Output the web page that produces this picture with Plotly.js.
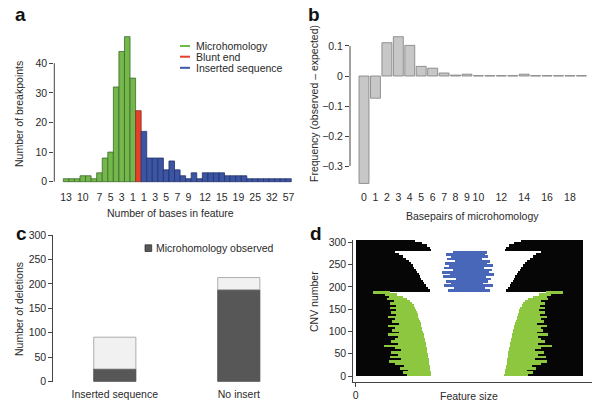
<!DOCTYPE html>
<html><head><meta charset="utf-8">
<script src="https://cdn.plot.ly/plotly-3.0.1.min.js"></script>
<style>html,body{margin:0;padding:0;background:#fff}#chart{width:600px;height:408px}</style>
</head><body><div id="chart"></div>
<script>
// ---------- Panel a: breakpoint features ----------
const microLen = [13,12,11,10,9,8,7,6,5,4,3,2,1];
const microCount = [1,1,1,2,2,1,3,8,10,32,44,49,35];
const bluntCount = [24];
const insertLen = [1,2,3,4,5,6,7,8,9,10,11,12,13,14,15,16,17,19,21,23,25,27,29,32,36,44,57];
const insertCount = [17,8,8,8,4,7,4,2,1,3,1,3,3,3,3,2,2,2,2,1,1,1,1,1,1,1,1];
const microTickLabels = [13,10,7,5,3,1];
const insertTickLabels = [1,3,5,7,9,12,15,19,25,32,57];
const legendA = ['Microhomology','Blunt end','Inserted sequence'];

// ---------- Panel b: microhomology observed - expected ----------
const mhBp = [0,1,2,3,4,5,6,7,8,9,10,11,12,13,14,15,16,17,18,19];
const mhFreqDiff = [-0.358,-0.074,0.111,0.131,0.102,0.032,0.026,0.010,0.003,0.006,0.001,0.001,0.001,0.001,0.006,0.001,0.001,0.001,0.001,0.001];
const mhTickLabels = [0,1,2,3,4,5,6,7,8,9,10,12,14,16,18];

// ---------- Panel c: deletions ----------
const delCategories = ['Inserted sequence','No insert'];
const delMicro = [26,188];
const delTotal = [91,213];
const legendC = 'Microhomology observed';

// ---------- Panel d: CNV feature sizes (rows of 5 CNVs) ----------
const microHalfGap = [36.5,37,37.5,38,38.3,38.7,39,39.3,39.7,40,40.5,41,41.3,41.8,42.3,42.8,43.3,43.8,44.3,44.8,45.5,46,46.5,47.2,48,48.8,49.5,50.2,51,51.5,52.5,54,55.5,57.5,60.5,65,71,78];
const microFeature = [24,28,22,30,26,34,40,28,38,30,36,26,32,42,28,34,30,26,36,24,30,27,33,22,28,24,30,22,26,20,25,18,22,16,20,14,12,17];
const insertHalfGap = [38,40,42,43.5,45,46.5,47.5,49,50.5,52,53.5,55,57,59,62,65,68.5,73];
const insertLeftLen = [20,14,24,17,22,12,25,18,26,15,24,19,23,13,21,17,22,15];
const insertRightLen = [22,17,25,15,20,23,18,26,21,24,16,25,19,22,14,20,17,19];
const bluntHalfGap = [37,38,41,46,53];

const FONT = 'Liberation Sans, Arial, Helvetica, sans-serif';
const TXT = '#2a2a2a';
const W = 600, H = 408;
const px = v => v / W;
const py = v => 1 - v / H;

const traces = [];
// Panel a bars
const microX = microLen.map((_, i) => i);
const bluntX = [microLen.length];
const insertX = insertLen.map((_, i) => microLen.length + 1 + i);
traces.push({type:'bar', x: microX, y: microCount, width: 1, xaxis:'x', yaxis:'y',
  marker:{color:'#74b74a', line:{color:'#3e6a2c', width:0.8}}, hoverinfo:'skip', showlegend:false});
traces.push({type:'bar', x: bluntX, y: bluntCount, width: 1, xaxis:'x', yaxis:'y',
  marker:{color:'#e6402a', line:{color:'#8c2e1f', width:0.8}}, hoverinfo:'skip', showlegend:false});
traces.push({type:'bar', x: insertX, y: insertCount, width: 1, xaxis:'x', yaxis:'y',
  marker:{color:'#3b55a4', line:{color:'#23326a', width:0.8}}, hoverinfo:'skip', showlegend:false});
const aTickVals = microTickLabels.map(l => microLen.indexOf(l))
  .concat(insertTickLabels.map(l => microLen.length + 1 + insertLen.indexOf(l)));
const aTickText = microTickLabels.concat(insertTickLabels).map(String);

// Panel b
traces.push({type:'bar', x: mhBp, y: mhFreqDiff, width: 0.87, xaxis:'x2', yaxis:'y2',
  marker:{color:'#c7c7c7', line:{color:'#7c7c7c', width:0.8}}, hoverinfo:'skip', showlegend:false});

// Panel c
traces.push({type:'bar', x: delCategories, y: delMicro, width: 0.34, xaxis:'x3', yaxis:'y3',
  marker:{color:'#575757', line:{color:'#444', width:0.8}}, hoverinfo:'skip', showlegend:false});
traces.push({type:'bar', x: delCategories, y: delTotal.map((t, i) => t - delMicro[i]), base: delMicro,
  width: 0.34, xaxis:'x3', yaxis:'y3',
  marker:{color:'#f1f1f1', line:{color:'#9a9a9a', width:0.8}}, hoverinfo:'skip', showlegend:false});

// Panel d
const C = 112.3, SPAN = 227.6, ROW = 5;
const halfGap = microHalfGap.concat(insertHalfGap, bluntHalfGap);
const feat = microFeature.concat(insertHalfGap.map(() => 0), bluntHalfGap.map(() => 0));
const rowY = halfGap.map((_, i) => i * ROW + ROW / 2);
const microY = rowY.slice(0, microHalfGap.length);
const insertY = rowY.slice(microHalfGap.length, microHalfGap.length + insertHalfGap.length);
const dCommon = {type:'bar', orientation:'h', width: ROW * 1.2, xaxis:'x4', yaxis:'y4', hoverinfo:'skip', showlegend:false};
traces.push(Object.assign({}, dCommon, {y: rowY, base: 0, x: halfGap.map((g, i) => C - g - feat[i]),
  marker:{color:'#060606', line:{width:0}}}));
traces.push(Object.assign({}, dCommon, {y: rowY, base: halfGap.map((g, i) => C + g + feat[i]),
  x: halfGap.map((g, i) => SPAN - (C + g + feat[i])), marker:{color:'#060606', line:{width:0}}}));
traces.push(Object.assign({}, dCommon, {y: microY, base: microHalfGap.map((g, i) => C - g - microFeature[i]),
  x: microFeature, marker:{color:'#8dc63f', line:{width:0}}}));
traces.push(Object.assign({}, dCommon, {y: microY, base: microHalfGap.map(g => C + g),
  x: microFeature, marker:{color:'#8dc63f', line:{width:0}}}));
traces.push(Object.assign({}, dCommon, {y: insertY, base: insertLeftLen.map(b => C - b),
  x: insertLeftLen.map((b, i) => b + insertRightLen[i]), marker:{color:'#4967b9', line:{width:0}}}));

const tickFont = {family: FONT, size: 10.5, color: TXT};
const baseAxis = {showgrid:false, zeroline:false, tickfont: tickFont, fixedrange:true};

const layout = {
  width: W, height: H, margin:{l:0,r:0,t:0,b:0}, paper_bgcolor:'#fff', plot_bgcolor:'rgba(0,0,0,0)',
  barmode:'overlay', bargap:0, showlegend:false, font:{family: FONT, color: TXT},
  xaxis: Object.assign({}, baseAxis, {domain:[px(54.3), px(295)], range:[-2.122, 41.17], anchor:'y',
    tickmode:'array', tickvals: aTickVals, ticktext: aTickText, ticks:'', showline:false, ticklabelstandoff:4}),
  yaxis: Object.assign({}, baseAxis, {domain:[py(185), py(30)], range:[-1.115, 51.25], anchor:'x',
    tickmode:'array', tickvals:[0,10,20,30,40], ticks:'outside', ticklen:4, tickcolor:'#444', showline:false}),
  xaxis2: Object.assign({}, baseAxis, {domain:[px(350), px(595)], range:[-1.224, 20.19], anchor:'y2',
    tickmode:'array', tickvals: mhTickLabels, ticktext: mhTickLabels.map(String), ticks:'', showline:false, ticklabelstandoff:1}),
  yaxis2: Object.assign({}, baseAxis, {domain:[py(188), py(30)], range:[-0.3733, 0.1533], anchor:'x2',
    tickmode:'array', tickvals:[-0.3,-0.2,-0.1,0,0.1], ticktext:['\u22120.3','\u22120.2','\u22120.1','0','0.1'],
    ticks:'outside', ticklen:4, tickcolor:'#444', showline:false}),
  xaxis3: Object.assign({}, baseAxis, {domain:[px(53.3), px(290)], range:[-0.496, 1.413], anchor:'y3',
    type:'category', ticks:'', showline:false, ticklabelstandoff:5}),
  yaxis3: Object.assign({}, baseAxis, {domain:[py(381.7), py(235)], range:[0, 300], anchor:'x3',
    tickmode:'array', tickvals:[0,50,100,150,200,250,300], ticks:'outside', ticklen:4, tickcolor:'#444',
    showline:true, linecolor:'#444', linewidth:1}),
  xaxis4: Object.assign({}, baseAxis, {domain:[px(353.3), px(591.7)], range:[-2.4, 236], anchor:'y4',
    tickmode:'array', tickvals:[0], ticktext:['0'], ticks:'outside', ticklen:4, tickcolor:'#444',
    showline:true, linecolor:'#444', linewidth:1}),
  yaxis4: Object.assign({}, baseAxis, {domain:[py(381.7), py(240)], range:[-12.79, 305.1], anchor:'x4',
    tickmode:'array', tickvals:[0,50,100,150,200,250,300], ticks:'outside', ticklen:4, tickcolor:'#444',
    showline:true, linecolor:'#444', linewidth:1}),
  shapes: [
    {type:'line', xref:'x domain', yref:'y', x0:0, x1:0, y0:0, y1:40, line:{color:'#444', width:1}},
    {type:'line', xref:'x2 domain', yref:'y2', x0:0, x1:0, y0:-0.3, y1:0.1, line:{color:'#444', width:1}},
    // legend keys
    {type:'line', xref:'paper', yref:'paper', x0:px(180), x1:px(190), y0:py(46), y1:py(46), line:{color:'#6dbd45', width:2}},
    {type:'line', xref:'paper', yref:'paper', x0:px(180), x1:px(190), y0:py(56.7), y1:py(56.7), line:{color:'#e6402a', width:2}},
    {type:'line', xref:'paper', yref:'paper', x0:px(180), x1:px(190), y0:py(67.8), y1:py(67.8), line:{color:'#3b5aa8', width:2}},
    {type:'rect', xref:'paper', yref:'paper', x0:px(145), x1:px(151.7), y0:py(251.5), y1:py(244.8), fillcolor:'#575757', line:{color:'#333', width:0.8}}
  ],
  annotations: []
};

function ann(text, x, y, opts) {
  layout.annotations.push(Object.assign({text: text, xref:'paper', yref:'paper', x: px(x), y: py(y),
    xanchor:'center', yanchor:'middle', showarrow:false, font:{family: FONT, size: 10.5, color: TXT}}, opts || {}));
}
// panel letters
const letterFont = {family: FONT, size: 19, color:'#111', weight: 'bold'};
ann('<b>a</b>', 20, 15, {font: letterFont});
ann('<b>b</b>', 314, 15, {font: letterFont});
ann('<b>c</b>', 21.3, 233.5, {font: letterFont});
ann('<b>d</b>', 316, 233.5, {font: letterFont});
// axis titles
ann('Number of breakpoints', 19, 114, {textangle:-90});
ann('Number of bases in feature', 170.7, 213.3);
ann('Frequency (observed \u2013 expected)', 314, 104, {textangle:-90});
ann('Basepairs of microhomology', 472.7, 215.7);
ann('Number of deletions', 19, 309, {textangle:-90});
ann('CNV number', 313.3, 301.7, {textangle:-90});
ann('Feature size', 469, 396);
// legends
ann(legendA[0], 194, 46, {xanchor:'left'});
ann(legendA[1], 194, 56.7, {xanchor:'left'});
ann(legendA[2], 194, 67.8, {xanchor:'left'});
ann(legendC, 154, 248.2, {xanchor:'left'});

Plotly.newPlot('chart', traces, layout, {displayModeBar:false, staticPlot:true});
</script></body></html>
